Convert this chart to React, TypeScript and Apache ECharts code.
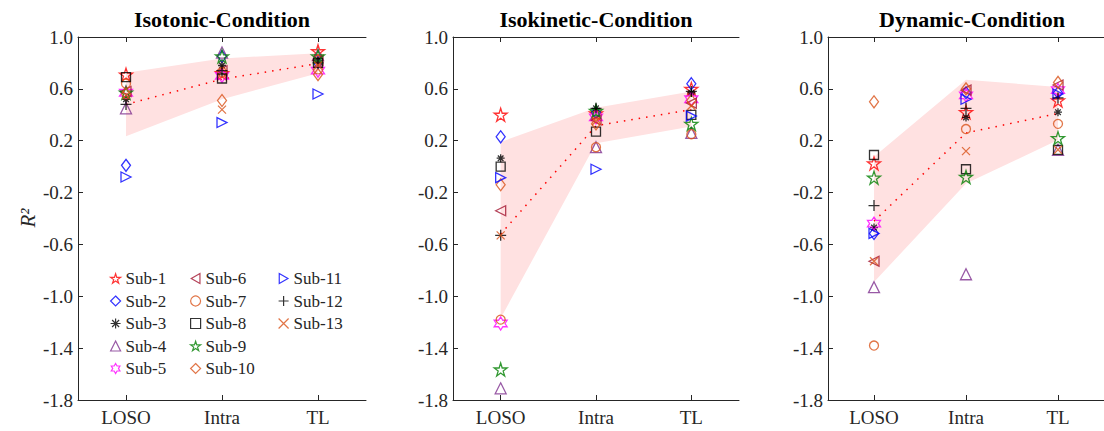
import React, { useEffect, useRef } from 'react';
import * as echarts from 'echarts';

const categories = ['LOSO', 'Intra', 'TL'];
const subjects = ['Sub-1', 'Sub-2', 'Sub-3', 'Sub-4', 'Sub-5', 'Sub-6', 'Sub-7', 'Sub-8', 'Sub-9', 'Sub-10', 'Sub-11', 'Sub-12', 'Sub-13'];
const yTicks = [-1.8, -1.4, -1.0, -0.6, -0.2, 0.2, 0.6, 1.0];
const titles = ['Isotonic-Condition', 'Isokinetic-Condition', 'Dynamic-Condition'];

// per-subject R² values (Sub-1 .. Sub-13)
const isotonicLOSO = [0.71, 0.01, 0.52, 0.45, 0.57, 0.58, 0.64, 0.69, 0.57, 0.56, -0.08, 0.48, 0.55];
const isotonicIntra = [0.72, 0.85, 0.78, 0.88, 0.70, 0.74, 0.73, 0.68, 0.85, 0.51, 0.34, 0.74, 0.44];
const isotonicTL = [0.89, 0.80, 0.82, 0.86, 0.74, 0.82, 0.75, 0.80, 0.85, 0.71, 0.56, 0.80, 0.78];

const isokineticLOSO = [0.40, 0.23, 0.065, -1.71, -1.21, -0.34, -1.18, 0.0, -1.565, -0.14, -0.085, -0.53, -0.53];
const isokineticIntra = [0.41, 0.42, 0.45, 0.15, 0.38, 0.36, 0.15, 0.27, 0.43, 0.33, -0.02, 0.45, 0.35];
const isokineticTL = [0.60, 0.64, 0.57, 0.26, 0.52, 0.49, 0.25, 0.40, 0.33, 0.51, 0.39, 0.58, 0.47];

const dynamicLOSO = [0.025, -0.515, -0.47, -0.93, -0.44, -0.73, -1.38, 0.09, -0.085, 0.50, -0.515, -0.30, -0.73];
const dynamicIntra = [0.42, 0.57, 0.38, -0.83, 0.55, 0.59, 0.29, -0.02, -0.08, 0.60, 0.52, 0.45, 0.12];
const dynamicTL = [0.51, 0.57, 0.42, 0.13, 0.59, 0.63, 0.33, 0.13, 0.22, 0.65, 0.56, 0.53, 0.13];

// mean line and shaded band (upper / lower) per condition
const isotonicMean = [0.48, 0.675, 0.795];
const isotonicUpper = [0.725, 0.835, 0.875];
const isotonicLower = [0.235, 0.52, 0.72];

const isokineticMean = [-0.52, 0.315, 0.44];
const isokineticUpper = [0.19, 0.455, 0.58];
const isokineticLower = [-1.17, 0.18, 0.31];

const dynamicMean = [-0.42, 0.26, 0.41];
const dynamicUpper = [0.077, 0.67, 0.615];
const dynamicLower = [-0.89, -0.13, 0.205];

const panels = [
  { loso: isotonicLOSO, intra: isotonicIntra, tl: isotonicTL, mean: isotonicMean, upper: isotonicUpper, lower: isotonicLower },
  { loso: isokineticLOSO, intra: isokineticIntra, tl: isokineticTL, mean: isokineticMean, upper: isokineticUpper, lower: isokineticLower },
  { loso: dynamicLOSO, intra: dynamicIntra, tl: dynamicTL, mean: dynamicMean, upper: dynamicUpper, lower: dynamicLower },
];

const STAR = 'path://M50 0 L61.23 34.55 L97.55 34.55 L68.17 55.9 L79.39 90.45 L50 69.1 L20.61 90.45 L31.83 55.9 L2.45 34.55 L38.77 34.55 Z';
const HEXAGRAM = 'path://M50 0 L64.43 25 L93.3 25 L78.87 50 L93.3 75 L64.43 75 L50 100 L35.57 75 L6.7 75 L21.13 50 L6.7 25 L35.57 25 Z';
const TRI_LEFT = 'path://M0 50 L87 0 L87 100 Z';
const TRI_RIGHT = 'path://M0 0 L87 50 L0 100 Z';
const PLUS = 'path://M50 0 L50 100 M0 50 L100 50';
const XMARK = 'path://M0 0 L100 100 M100 0 L0 100';
const ASTERISK = 'path://M50 0 L50 100 M0 50 L100 50 M15 15 L85 85 M85 15 L15 85';

const markerStyles = [
  { symbol: STAR, size: 13, color: '#FF0000' },
  { symbol: 'diamond', size: [9, 12], color: '#0000FF' },
  { symbol: ASTERISK, size: 8, color: '#000000' },
  { symbol: 'triangle', size: 11, color: '#7E2F8E' },
  { symbol: HEXAGRAM, size: 13, color: '#FF00FF' },
  { symbol: TRI_LEFT, size: 10, color: '#A2142F' },
  { symbol: 'circle', size: 9, color: '#D95319' },
  { symbol: 'rect', size: 9, color: '#000000' },
  { symbol: STAR, size: 13, color: '#008000' },
  { symbol: 'diamond', size: [9, 12], color: '#D95319' },
  { symbol: TRI_RIGHT, size: 10, color: '#0000FF' },
  { symbol: PLUS, size: 11, color: '#000000' },
  { symbol: XMARK, size: 8, color: '#D95319' },
];

const FONT = 'Liberation Serif';
const AX = '#262626';
const grids = [
  { left: 78, top: 37, width: 288, height: 363 },
  { left: 453, top: 37, width: 286, height: 363 },
  { left: 828, top: 37, width: 288, height: 363 },
];

function buildOption() {
  const xAxis: any[] = [];
  const yAxis: any[] = [];
  const series: any[] = [];
  panels.forEach((pd, p) => {
    xAxis.push({
      gridIndex: p, type: 'category', data: categories, boundaryGap: true, position: 'bottom',
      axisLine: { show: true, onZero: false, lineStyle: { color: AX, width: 1 } },
      axisTick: { show: true, inside: true, alignWithLabel: true, length: 5, lineStyle: { color: AX } },
      axisLabel: { fontFamily: FONT, fontSize: 19, color: AX, margin: 8 },
      splitLine: { show: false },
    });
    xAxis.push({
      gridIndex: p, type: 'category', data: categories, boundaryGap: true, position: 'top',
      axisLine: { show: true, onZero: false, lineStyle: { color: AX, width: 1 } },
      axisTick: { show: true, inside: true, alignWithLabel: true, length: 5, lineStyle: { color: AX } },
      axisLabel: { show: false },
      splitLine: { show: false },
    });
    yAxis.push({
      gridIndex: p, type: 'value', min: -1.8, max: 1.0, interval: 0.2,
      axisLine: { show: true, onZero: false, lineStyle: { color: AX, width: 1 } },
      axisTick: { show: true, inside: true, length: 5, customValues: yTicks, lineStyle: { color: AX } },
      axisLabel: { customValues: yTicks, formatter: (v: number) => v.toFixed(1), fontFamily: FONT, fontSize: 19, color: AX, margin: 5 },
      splitLine: { show: false },
    });
    series.push({
      type: 'custom', xAxisIndex: p * 2, yAxisIndex: p, silent: true, z: 1,
      data: [[0, 0]],
      renderItem: (_params: any, api: any) => {
        const pts: number[][] = [];
        for (let i = 0; i < categories.length; i++) pts.push(api.coord([i, pd.upper[i]]));
        for (let i = categories.length - 1; i >= 0; i--) pts.push(api.coord([i, pd.lower[i]]));
        return { type: 'polygon', shape: { points: pts }, style: { fill: '#FFE1E1', stroke: 'none' } };
      },
    });
    series.push({
      type: 'line', xAxisIndex: p * 2, yAxisIndex: p, data: pd.mean, symbol: 'none', silent: true, z: 2,
      lineStyle: { color: '#FF0000', width: 1.5, type: [1.5, 6] },
    });
    subjects.forEach((name, i) => {
      const m = markerStyles[i];
      series.push({
        type: 'scatter', name, xAxisIndex: p * 2, yAxisIndex: p, z: 3,
        symbol: m.symbol, symbolSize: m.size,
        itemStyle: { color: 'rgba(0,0,0,0)', borderColor: m.color, borderWidth: 1.3 },
        data: [pd.loso[i], pd.intra[i], pd.tl[i]],
      });
    });
  });

  const legendText = { fontFamily: FONT, fontSize: 17, color: AX, lineHeight: 17 };
  const legendItem = (name: string) => {
    const m = markerStyles[subjects.indexOf(name)];
    return {
      name,
      icon: m.symbol,
      textStyle: legendText,
      itemStyle: { color: 'rgba(0,0,0,0)', borderColor: m.color, borderWidth: 1.2 },
    };
  };
  const legendBase = {
    orient: 'vertical', itemWidth: 10, itemHeight: 10, itemGap: 5.5, top: 265,
    textStyle: legendText,
    selectedMode: false,
  };
  const legend = [
    { ...legendBase, left: 105, data: subjects.slice(0, 5).map(legendItem) },
    { ...legendBase, left: 185, data: subjects.slice(5, 10).map(legendItem) },
    { ...legendBase, left: 273, data: subjects.slice(10, 13).map(legendItem) },
  ];

  const graphic: any[] = titles.map((t, p) => ({
    type: 'text', x: grids[p].left + grids[p].width / 2, y: 19,
    style: { text: t, fontFamily: FONT, fontSize: 22, fontWeight: 'bold', fill: '#000', align: 'center', verticalAlign: 'middle' },
  }));
  graphic.push({
    type: 'text', x: 28, y: 218, rotation: Math.PI / 2,
    style: { text: 'R²', fontFamily: FONT, fontSize: 21, fontStyle: 'italic', fill: AX, align: 'center', verticalAlign: 'middle' },
  });

  return {
    animation: false, backgroundColor: '#fff',
    textStyle: { fontFamily: FONT },
    grid: grids, xAxis, yAxis, series, legend, graphic,
  };
}

export default function App() {
  const ref = useRef<HTMLDivElement>(null);
  useEffect(() => {
    const chart = echarts.init(ref.current!, null, { renderer: 'svg' });
    chart.setOption(buildOption() as any);
    return () => chart.dispose();
  }, []);
  return <div ref={ref} style={{ position: 'fixed', left: 0, top: 0, width: 1104, height: 431 }} />;
}
